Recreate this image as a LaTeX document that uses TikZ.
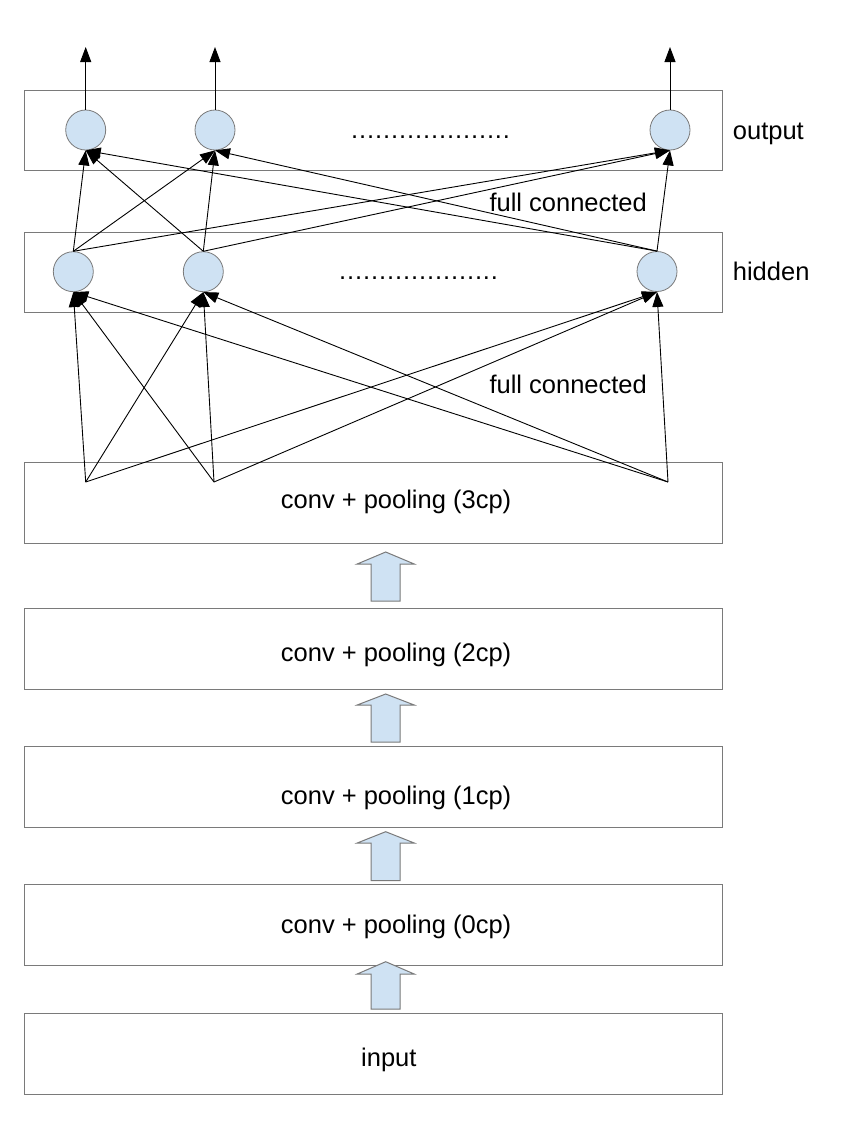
\documentclass[tikz,border=0pt]{standalone}
\usepackage{fontspec}
\setmainfont{Liberation Sans}
\usetikzlibrary{arrows.meta}
\definecolor{nodefill}{HTML}{CFE2F3}
\definecolor{edgegray}{HTML}{7A7A7A}
\begin{document}
\begin{tikzpicture}[x=1pt,y=-1pt,
  layerbox/.style={draw=edgegray,line width=1pt},
  neuron/.style={circle,draw=edgegray,fill=nodefill,line width=0.8pt,minimum size=40pt,inner sep=0pt},
  conn/.style={draw=black,line width=0.9pt,-{Triangle[length=15pt,width=11pt]}},
  lbl/.style={font=\fontsize{25.5}{30}\selectfont,inner sep=0pt,anchor=base west},
  blockarrow/.style={draw=edgegray,fill=nodefill,line width=1pt,line join=miter}]
\useasboundingbox (0,0) rectangle (852,1135);
\fill[white] (0,0) rectangle (852,1135);
% layer boxes
\draw[layerbox] (24,90) rectangle (722,170);
\draw[layerbox] (24,232) rectangle (722,312);
\draw[layerbox] (24,462) rectangle (722,543);
\draw[layerbox] (24,608) rectangle (722,689);
\draw[layerbox] (24,746) rectangle (722,827);
\draw[layerbox] (24,884) rectangle (722,965);
\draw[layerbox] (24,1013) rectangle (722,1094);
% texts
\node[lbl] (t3) at (280.7,508) {conv + pooling (3cp)};
\node[lbl] (t2) at (280.7,661) {conv + pooling (2cp)};
\node[lbl] (t1) at (280.7,804) {conv + pooling (1cp)};
\node[lbl] (t0) at (280.7,933) {conv + pooling (0cp)};
\node[lbl] (tin) at (361,1066) {input};
\node[lbl] (tout) at (732.7,139) {output};
\node[lbl] (thid) at (732.7,280) {hidden};
\node[lbl] (fc1) at (489.3,211) {full connected};
\node[lbl] (fc2) at (489.3,393) {full connected};
\node[lbl] (dots1) at (351,138) {\foreach \i in {1,...,20}{.\kern0.9pt}};
\node[lbl] (dots2) at (339,279) {\foreach \i in {1,...,20}{.\kern0.9pt}};
% neurons
\node[neuron] (o1) at (85.7,130) {};
\node[neuron] (o2) at (215,130) {};
\node[neuron] (o3) at (670,130) {};
\node[neuron] (h1) at (73.3,271.7) {};
\node[neuron] (h2) at (203.3,271.7) {};
\node[neuron] (h3) at (657,271.5) {};
% source points in 3cp box
\coordinate (p1) at (85.7,482);
\coordinate (p2) at (214,482);
\coordinate (p3) at (668,482);
% output ends
\coordinate (e1) at (85.7,47);
\coordinate (e2) at (215,47);
\coordinate (e3) at (670,47);
% connections
\foreach \o/\e in {o1/e1,o2/e2,o3/e3} \draw[conn] (\o.north) -- (\e);
\foreach \h in {h1,h2,h3} {
  \foreach \o in {o1,o2,o3} \draw[conn] (\h.north) -- (\o.south);
}
\foreach \p in {p1,p2,p3} {
  \foreach \h in {h1,h2,h3} \draw[conn] (\p) -- (\h.south);
}
% block arrows
\foreach \tip/\sh/\bot [count=\k] in {552/564/601, 694/705/742, 831.7/843/880.7, 961.7/974/1009} {
  \draw[blockarrow] (385.7,\tip) -- (414.2,\sh) -- (400.2,\sh) -- (400.2,\bot) -- (371.2,\bot) -- (371.2,\sh) -- (357.2,\sh) -- cycle;
}
\end{tikzpicture}
\end{document}
